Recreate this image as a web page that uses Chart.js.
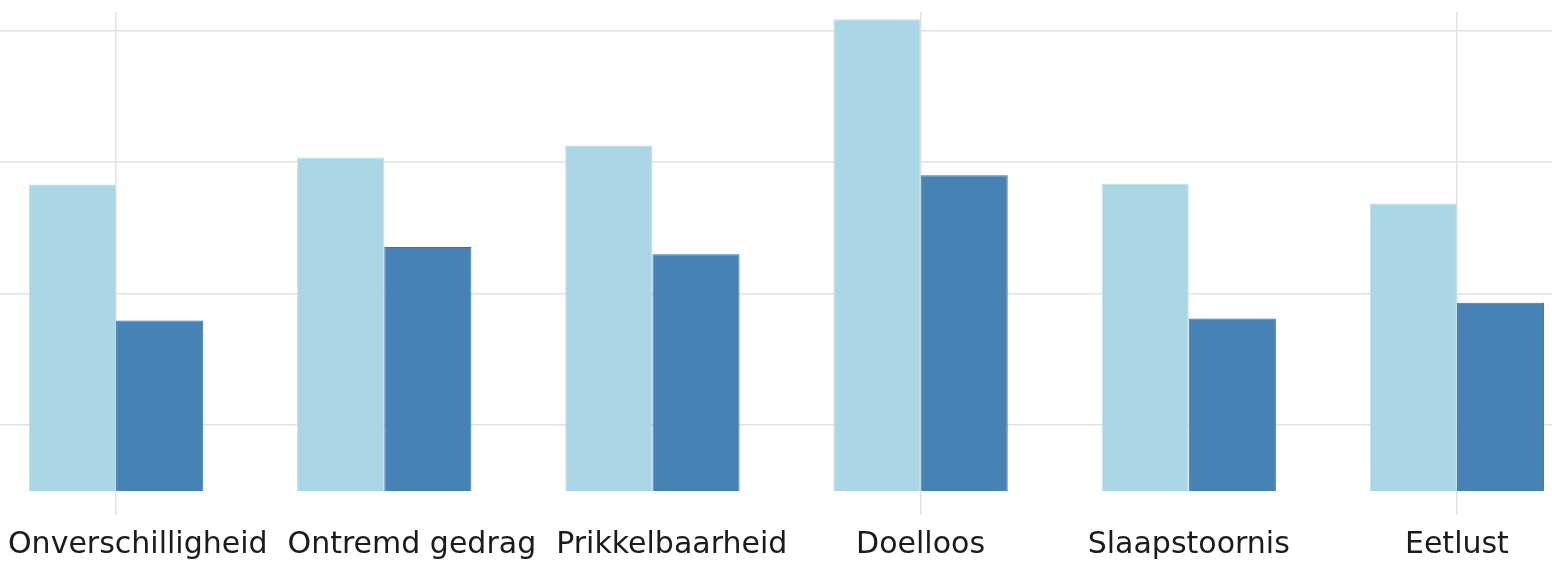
<!DOCTYPE html>
<html>
<head>
<meta charset="utf-8">
<script src="https://cdn.jsdelivr.net/npm/chart.js@4.4.1/dist/chart.umd.min.js"></script>
<style>
    html, body { margin: 0; padding: 0; background: #fff; overflow: hidden; width: 1552px; height: 563px; }
    /* the plot runs a little past both page edges, as in the original */
    canvas { display: block; margin-left: -18px; }
</style>
</head>
<body>
<canvas id="symptomen" width="1609" height="563"></canvas>
<script>
const categories = ['Onverschilligheid', 'Ontremd gedrag', 'Prikkelbaarheid', 'Doelloos', 'Slaapstoornis', 'Eetlust'];
const lightValues = [46.6, 50.7, 52.5, 71.7, 46.7, 43.7];
const darkValues = [25.9, 37.1, 36.0, 48.0, 26.2, 28.6];
const yTicks = [10, 30, 50, 70];
const yMax = 72.8;
// only these categories get a vertical grid line
const gridCategories = ['Onverschilligheid', 'Doelloos', 'Eetlust'];

const labelFont = '30px "DejaVu Sans"';

// draws the x labels centred under the ticks, kept inside the page and pushed apart when they collide
const spreadLabels = {
    id: 'spreadLabels',
    afterDraw(chart) {
        const ctx = chart.ctx;
        const xScale = chart.scales.x;
        const shift = -chart.canvas.getBoundingClientRect().left;
        const margin = 8;
        const gap = 20;
        ctx.save();
        ctx.font = labelFont;
        ctx.fillStyle = '#1b1b1b';
        ctx.textAlign = 'left';
        ctx.textBaseline = 'middle';
        let prevRight = -Infinity;
        categories.forEach((label, i) => {
            const w = ctx.measureText(label).width;
            let left = xScale.getPixelForTick(i) - w / 2;
            left = Math.max(left, shift + margin, prevRight + gap);
            left = Math.min(left, shift + window.innerWidth - margin - w);
            ctx.fillText(label, left, xScale.bottom + 30);
            prevRight = left + w;
        });
        ctx.restore();
    }
};

const data = {
    labels: categories,
    datasets: [{
        label: 'A',
        backgroundColor: '#aad6e5',
        borderColor: '#bfe0eb',
        borderWidth: 1,
        data: lightValues
    }, {
        label: 'B',
        backgroundColor: '#4682b4',
        borderColor: '#2f72ad',
        borderWidth: 1,
        data: darkValues
    }]
};

const options = {
    responsive: false,
    animation: false,
    layout: {
        padding: { top: 12, bottom: 48, left: 0, right: 0 }
    },
    plugins: {
        legend: { display: false },
        tooltip: { enabled: false }
    },
    datasets: {
        bar: {
            categoryPercentage: 0.65,
            barPercentage: 1
        }
    },
    scales: {
        x: {
            offset: true,
            border: { display: false },
            ticks: { display: false },
            grid: {
                offset: false,
                drawTicks: true,
                tickLength: 24,
                lineWidth: 1.5,
                color: (c) => gridCategories.includes(categories[c.index]) ? '#e2e2e2' : 'rgba(0,0,0,0)'
            }
        },
        y: {
            min: 0,
            max: yMax,
            border: { display: false },
            ticks: { display: false },
            afterBuildTicks: (axis) => {
                axis.ticks = yTicks.map(v => ({ value: v }));
            },
            grid: {
                drawTicks: false,
                lineWidth: 1.5,
                color: '#e2e2e2'
            }
        }
    }
};

new Chart(document.querySelector('#symptomen'), {
    type: 'bar',
    data,
    options,
    plugins: [spreadLabels]
});
</script>
</body>
</html>
